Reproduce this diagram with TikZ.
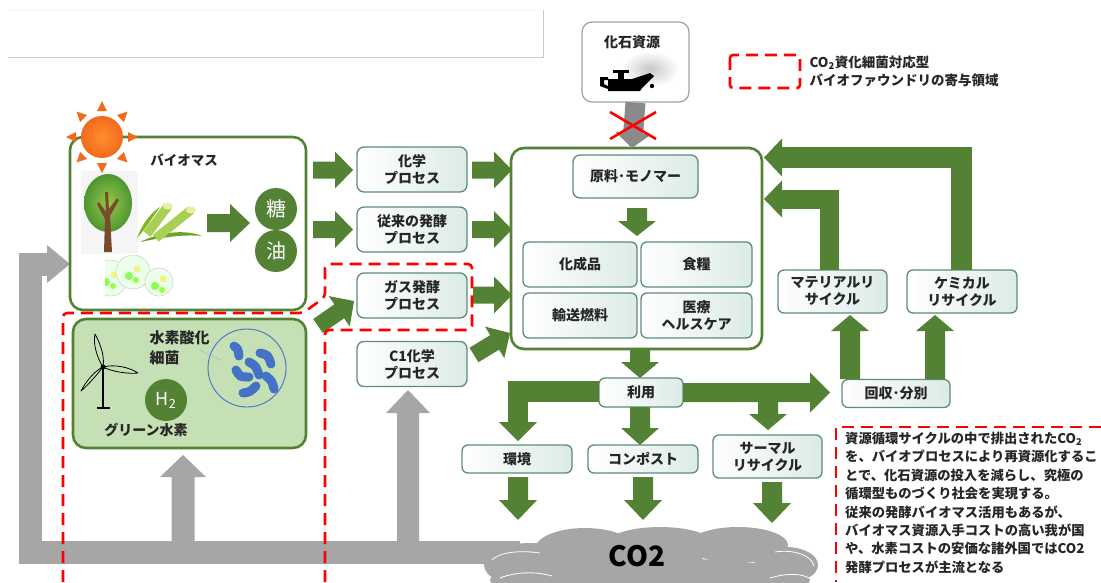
\documentclass[tikz,border=0pt]{standalone}
\usepackage{fontspec}
\setmainfont{Noto Sans CJK JP}
\usetikzlibrary{calc}

\definecolor{leaf}{HTML}{548235}
\definecolor{ash}{HTML}{A6A6A6}
\definecolor{fossilgray}{HTML}{8A8A8A}
\definecolor{boxedge}{HTML}{5E8C7A}
\definecolor{boxtint}{HTML}{DCEBE7}
\definecolor{hfill}{HTML}{C5E0B4}
\definecolor{ink}{HTML}{262626}
\definecolor{bug}{HTML}{4472C4}
\definecolor{sunin}{HTML}{FF8F2E}
\definecolor{sunout}{HTML}{F26A1B}
\definecolor{cane}{HTML}{A9CF55}
\definecolor{canetop}{HTML}{E9F0A6}
\definecolor{trunk}{HTML}{7A4B2A}

% block arrow: style, from, to, body half width, head half width, head length
\newcommand\blockarrow[6]{%
  \path #2 coordinate (ba-s) #3 coordinate (ba-e);
  \path ($(ba-e)!#6!(ba-s)$) coordinate (ba-h);
  \fill[#1] ($(ba-s)!#4!90:(ba-e)$) -- ($(ba-h)!#4!-90:(ba-s)$)
    -- ($(ba-h)!#5!-90:(ba-s)$) -- (ba-e) -- ($(ba-h)!#5!90:(ba-s)$)
    -- ($(ba-h)!#4!90:(ba-s)$) -- ($(ba-s)!#4!-90:(ba-e)$) -- cycle;}
% triangular head only: style, base centre, tip, half width
\newcommand\arrowhead[4]{%
  \fill[#1] ($#2!#4!90:#3$) -- #3 -- ($#2!#4!-90:#3$) -- cycle;}

\tikzset{
  lbl/.style={font=\bfseries\fontsize{14}{17}\selectfont, text=ink, align=center},
  procbox/.style 2 args={lbl, draw=boxedge, line width=1.3pt, rounded corners=7pt,
    left color=white, right color=boxtint, inner sep=0pt,
    minimum width=#1, minimum height=#2},
  bigbox/.style={draw=leaf, line width=2.6pt, rounded corners=13pt, inner sep=0pt},
  reddash/.style={draw=red, line width=2.6pt, dash pattern=on 12pt off 7pt},
  band/.style={line width=#1, line join=miter},
}

\begin{document}
\begin{tikzpicture}[x=1pt,y=-1pt]
\useasboundingbox (0,0) rectangle (1101,582);

% header frame
\draw[black!4, line width=0.8pt] (8,10) -- (543,10);
\draw[black!20, line width=1pt] (8,57) -- (543,57) -- (543,10);

% grey CO2 return loop
\draw[ash, band=23pt] (520,552.5) -- (30,552.5) -- (30,264) -- (48,264);
\arrowhead{ash}{(47,264)}{(70,264)}{19pt}
\blockarrow{ash}{(183,545)}{(183,455)}{11.5pt}{23pt}{22pt}
\blockarrow{ash}{(408,545)}{(408,390)}{11pt}{22pt}{23pt}

% CO2 cloud
\begin{scope}[ash]
  \fill (530,565) ellipse [x radius=46pt, y radius=22pt];
  \fill (585,549) ellipse [x radius=50pt, y radius=21pt];
  \fill (660,546) ellipse [x radius=56pt, y radius=19pt];
  \fill (738,545) ellipse [x radius=50pt, y radius=18pt];
  \fill (786,565) ellipse [x radius=32pt, y radius=18pt];
  \fill (650,580) ellipse [x radius=160pt, y radius=22pt];
\end{scope}
\draw[white, line width=0.8pt] (492,560) .. controls (500,552) and (520,550) .. (540,553);
\draw[white, line width=0.8pt] (500,578) .. controls (515,572) and (535,571) .. (552,576);
\draw[white, line width=0.8pt] (775,552) .. controls (795,549) and (812,556) .. (814,566);
\draw[white, line width=0.8pt] (770,578) .. controls (790,572) and (805,574) .. (812,580);
\node[font=\bfseries\fontsize{28}{28}\selectfont, text=black] (co2) at (637,556) {CO2};

% biomass panel
\node[bigbox, fill=white, minimum width=236pt, minimum height=173pt] (bio) at (188,223.5) {};
\node[lbl, font=\bfseries\fontsize{13.5}{16}\selectfont] (biot) at (184,160) {バイオマス};
% tree
\fill[black!4] (81,171) rectangle (138,254);
\shade[inner color={rgb,255:red,150;green,200;blue,75}, outer color={rgb,255:red,78;green,150;blue,48}]
  (108,203) ellipse [x radius=24pt, y radius=29pt];
\fill[trunk] (104,252) -- (112,252) -- (110,216) -- (119,200) -- (117,198) -- (109,209)
  -- (108,192) -- (105,192) -- (106,212) -- (99,202) -- (97,204) -- (105,219) -- cycle;
% sugar cane
\fill[leaf!75!lime] (140,242) .. controls (160,232) and (185,229) .. (202,236)
  .. controls (182,234) and (160,238) .. (140,242) -- cycle;
\fill[leaf!60!lime] (137,238) .. controls (143,222) and (152,212) .. (160,207)
  .. controls (152,218) and (146,228) .. (137,238) -- cycle;
\draw[cane, line width=9pt] (147,234) -- (168,206);
\draw[cane, line width=9pt] (156,238) -- (191,210);
\fill[canetop] (168,206) ellipse [x radius=5pt, y radius=3.5pt];
\fill[canetop] (191,210) ellipse [x radius=5pt, y radius=3.5pt];
% algae
\begin{scope}
  \clip (105,255) rectangle (180,300);
  \foreach \cx/\cy/\r in {110/278/18, 133/272/17, 159/282/14} {
    \fill[green!8!white] (\cx,\cy) circle[radius=\r pt];
    \draw[leaf!30!white, line width=0.6pt] (\cx,\cy) circle[radius=\r pt];
    \fill[green!55!lime!70!white] (\cx-4,\cy+4) circle[radius=4pt];
    \fill[yellow!60!lime!50!white] (\cx+4,\cy-3) circle[radius=3.5pt];
    \fill[green!45!lime!70!white] (\cx+3,\cy+8) circle[radius=3pt];
  }
\end{scope}
\blockarrow{leaf}{(207,223)}{(250,223)}{9pt}{19pt}{20pt}
\node[circle, fill=leaf, minimum size=42pt, inner sep=0pt, text=white,
  font=\fontsize{20}{20}\selectfont] (sugar) at (276,209) {糖};
\node[circle, fill=leaf, minimum size=42pt, inner sep=0pt, text=white,
  font=\fontsize{20}{20}\selectfont] (oil) at (276,251) {油};
% sun
\foreach \a in {0,45,...,315}
  \fill[sunout, shift={(102,137)}, rotate=\a] (26pt,-5pt) -- (36pt,0pt) -- (26pt,5pt) -- cycle;
\shade[inner color=sunin, outer color=sunout] (102,137) circle[radius=21pt];

% green hydrogen panel
\node[bigbox, fill=hfill, minimum width=233pt, minimum height=129pt] (htwo) at (189.5,383.5) {};
% wind turbine
\draw[black, line width=2.6pt] (103,367) -- (103,408);
\draw[black, line width=1.6pt] (97,408) -- (110,408);
\draw[black, line width=0.8pt, line join=round]
  (103,367) .. controls (96,356) and (93,342) .. (95,334) .. controls (100,343) and (105,356) .. (103,367)
  .. controls (96,376) and (87,386) .. (81,391) .. controls (85,383) and (94,371) .. (103,367)
  .. controls (114,364) and (129,367) .. (138,373) .. controls (128,374) and (113,372) .. (103,367);
\fill (103,367) circle[radius=2.5pt];
% hydrogen-oxidising bacteria
\draw[bug, line width=0.9pt] (247,368) circle[radius=39pt];
\draw[bug!50!white, line width=0.6pt] (199,350) -- (221,360);
\begin{scope}[bug, line width=9pt, line cap=round]
  \draw (234,346) .. controls (238,349) .. (239,356);
  \draw (260,353) .. controls (268,355) .. (271,364);
  \draw (236,370) .. controls (240,377) .. (249,377);
  \draw (249,362) .. controls (256,366) .. (259,375);
  \draw (266,376) .. controls (272,381) .. (274,389);
  \draw (243,393) .. controls (250,392) .. (256,386);
\end{scope}
\node[lbl, align=left, anchor=west, font=\bfseries\fontsize{15}{20}\selectfont] (bacteria) at (146,348) {水素酸化\\細菌};
\node[circle, fill=leaf, minimum size=42pt, inner sep=0pt, text=white,
  font=\fontsize{18}{18}\selectfont] (h2) at (166,400) {H\textsubscript{2}};
\node[lbl] (greenh) at (146,430) {グリーン水素};

% conversion processes
\node[procbox={110pt}{45pt}] (chem) at (412,169.5) {化学\\プロセス};
\node[procbox={110pt}{45pt}] (ferm) at (412,229.5) {従来の発酵\\プロセス};
\node[procbox={110pt}{45pt}] (gas) at (412,295.5) {ガス発酵\\プロセス};
\node[procbox={110pt}{45pt}] (cone) at (412,364) {C1化学\\プロセス};
\blockarrow{leaf}{(313,170)}{(353,170)}{8.5pt}{18.5pt}{18pt}
\blockarrow{leaf}{(313,229.5)}{(353,229.5)}{8.5pt}{18.5pt}{18pt}
\blockarrow{leaf}{(318,326)}{(354,301)}{8.5pt}{18.5pt}{18pt}
\blockarrow{leaf}{(472,170)}{(512,170)}{8.5pt}{18.5pt}{18pt}
\blockarrow{leaf}{(472,229.5)}{(512,229.5)}{8.5pt}{18.5pt}{18pt}
\blockarrow{leaf}{(473,295)}{(512,295)}{8.5pt}{18.5pt}{18pt}
\blockarrow{leaf}{(474,355)}{(510,333)}{8.5pt}{18.5pt}{18pt}

% products panel
\node[bigbox, fill=white, minimum width=251pt, minimum height=201pt] (main) at (636.5,248.5) {};
\node[procbox={125pt}{43pt}] (raw) at (635.5,176.5) {原料･モノマー};
\blockarrow{leaf}{(637,208)}{(637,236)}{10pt}{19pt}{15pt}
\node[procbox={114pt}{45pt}, rounded corners=6pt] (kasei) at (580,264.5) {化成品};
\node[procbox={111pt}{45pt}, rounded corners=6pt] (food) at (696.5,264.5) {食糧};
\node[procbox={114pt}{45pt}, rounded corners=6pt] (fuel) at (580,315.5) {輸送燃料};
\node[procbox={111pt}{45pt}, rounded corners=6pt] (med) at (696.5,315.5) {医療\\ヘルスケア};

% fossil resources
\node[draw=fossilgray!80, line width=1.2pt, rounded corners=10pt, fill=white,
  minimum width=107pt, minimum height=80pt] (fossil) at (635.5,62) {};
\shade[inner color=black!22, outer color=white] (650,69) ellipse [x radius=29pt, y radius=18pt];
\node[lbl] (fossilt) at (632,42) {化石資源};
% oil can
\fill[black] (600,77) -- (608,77) -- (608,80) -- (604,80) -- (604,84) -- (608,86) -- (608,89) -- (600,86) -- cycle;
\fill[black] (613,70) rectangle (629,73);
\fill[black] (618,73) rectangle (624,79);
\fill[black] (608,79) -- (632,79) -- (650,73) -- (654,76) -- (642,88) -- (640,91) -- (608,91) -- cycle;
\fill[black] (652,86) circle[radius=2.2pt];
\blockarrow{fossilgray}{(fossil.south)}{(632,148)}{10pt}{18pt}{15pt}
\draw[red, line width=2.6pt] (610,112) -- (656,139);
\draw[red, line width=2.6pt] (610,139) -- (656,112);

% use and disposal
\node[procbox={84pt}{29pt}, rounded corners=6pt] (use) at (641,392.5) {利用};
\blockarrow{leaf}{(640,349)}{(640,378)}{10pt}{19pt}{16pt}
\node[procbox={108pt}{28pt}, rounded corners=6pt] (collect) at (896,393.5) {回収･分別};
\blockarrow{leaf}{(683,392.5)}{(830,392.5)}{9.5pt}{20pt}{20pt}
\blockarrow{leaf}{(768,400)}{(768,430)}{10pt}{19pt}{16pt}
\draw[leaf, band=20.5pt] (599,391.5) -- (518,391.5) -- (518,423);
\arrowhead{leaf}{(518,422)}{(518,441)}{19pt}
\blockarrow{leaf}{(640,407)}{(640,445)}{10pt}{19pt}{17pt}
\node[procbox={110pt}{28pt}, rounded corners=6pt] (env) at (517,459) {環境};
\node[procbox={110pt}{28pt}, rounded corners=6pt] (comp) at (643,459) {コンポスト};
\node[procbox={109pt}{43pt}, rounded corners=6pt] (therm) at (767.5,456.5) {サーマル\\リサイクル};
\blockarrow{leaf}{(518,477)}{(518,520)}{10pt}{19pt}{20pt}
\blockarrow{leaf}{(643,477)}{(643,520)}{10pt}{19pt}{20pt}
\blockarrow{leaf}{(772,482)}{(772,523)}{10pt}{19pt}{20pt}

% recycling loops
\node[procbox={109pt}{43pt}, rounded corners=6pt] (mat) at (832.5,291.5) {マテリアルリ\\サイクル};
\node[procbox={110pt}{43pt}, rounded corners=6pt] (chemr) at (962,291.5) {ケミカル\\リサイクル};
\blockarrow{leaf}{(850,379)}{(850,315)}{10pt}{19pt}{16pt}
\blockarrow{leaf}{(935,379)}{(935,315)}{10pt}{19pt}{16pt}
\draw[leaf, band=21.5pt] (961.5,270) -- (961.5,157.5) -- (782,157.5);
\arrowhead{leaf}{(782,157.5)}{(764,157.5)}{19pt}
\draw[leaf, band=19pt] (829,270) -- (829,199) -- (782,199);
\arrowhead{leaf}{(782,199)}{(764,199)}{18.5pt}

% CO2-fixing biofoundry region
\draw[reddash, rounded corners=4pt] (63,582) -- (63,313) -- (303,313) -- (325,297) -- (325,264)
  -- (472,264) -- (472,330) -- (325,330) -- (325,582);
\draw[reddash, rounded corners=3pt] (730,55) rectangle (800,88);
\node[lbl, align=left, anchor=west, font=\bfseries\fontsize{13.5}{18}\selectfont] (legend) at (806,71)
  {CO\textsubscript{2}資化細菌対応型\\バイオファウンドリの寄与領域};

% explanatory note
\draw[reddash] (1101,427) -- (836,427) -- (836,582);
\node[anchor=north west, align=left, inner sep=0pt, text=ink,
  font=\bfseries\fontsize{13.3}{18.4}\selectfont] (note) at (845,432)
  {資源循環サイクルの中で排出されたCO\textsubscript{2}\\
   を、バイオプロセスにより再資源化するこ\\
   とで、化石資源の投入を減らし、究極の\\
   循環型ものづくり社会を実現する。\\
   従来の発酵バイオマス活用もあるが、\\
   バイオマス資源入手コストの高い我が国\\
   や、水素コストの安価な諸外国ではCO2\\
   発酵プロセスが主流となる};
\end{tikzpicture}
\end{document}
